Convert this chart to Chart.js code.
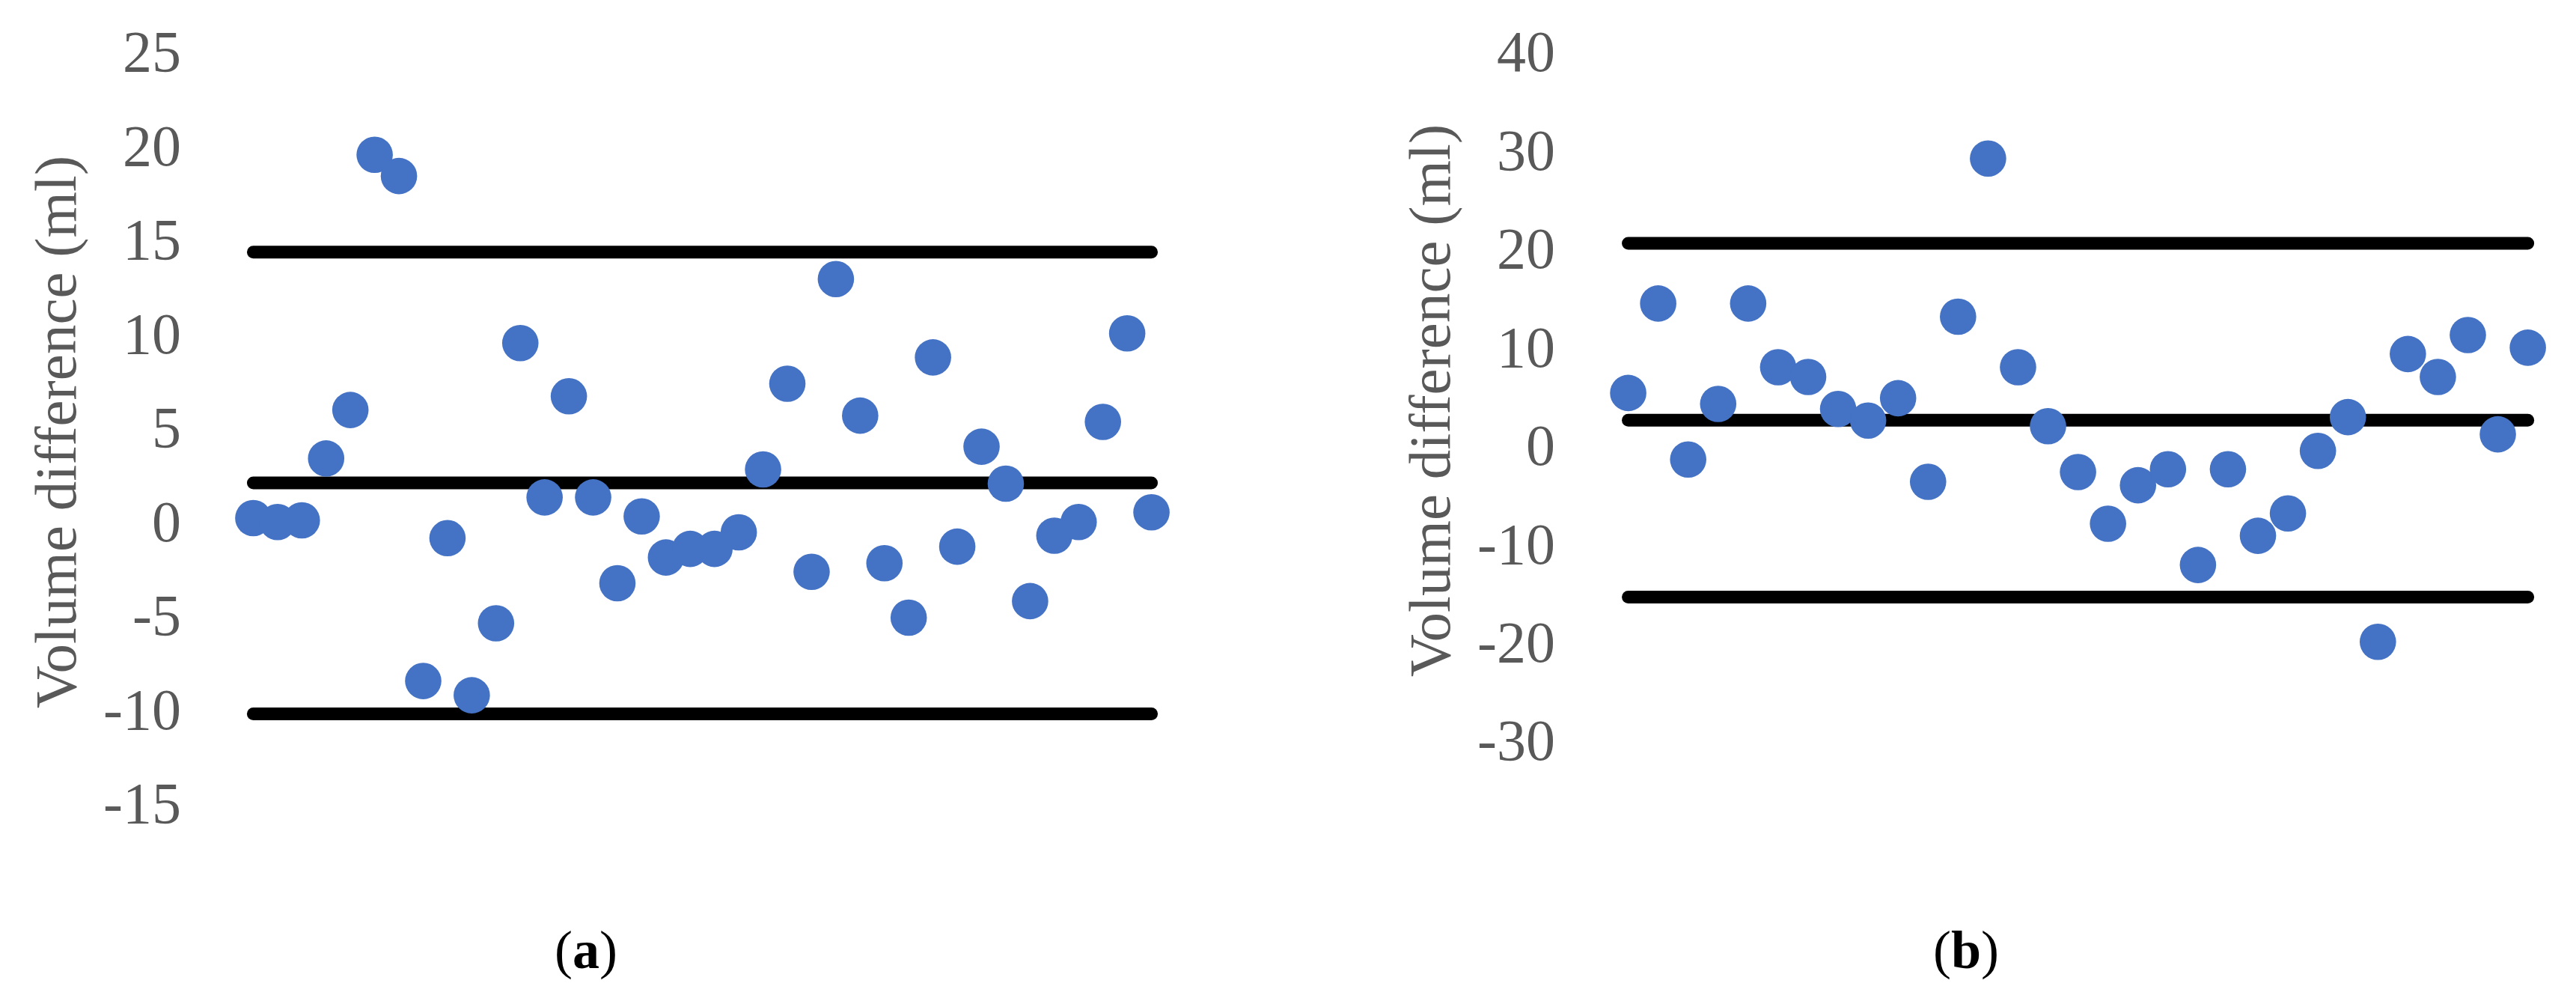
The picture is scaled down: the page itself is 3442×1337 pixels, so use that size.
<!DOCTYPE html>
<html>
<head>
<meta charset="utf-8">
<script src="https://cdn.jsdelivr.net/npm/chart.js@4/dist/chart.umd.min.js"></script>
<style>
  html, body { margin: 0; padding: 0; background: #fff; }
  body { width: 3442px; height: 1337px; position: relative; overflow: hidden; }
  .panel { position: absolute; top: 0; height: 1337px; }
  .panel canvas { display: block; }
  .tag {
    position: absolute; transform: translate(-50%, -50%);
    font-family: "Liberation Serif", serif; font-size: 72px; color: #000;
    white-space: nowrap; line-height: 1;
  }
</style>
</head>
<body>
<div class="panel" id="panelA" style="left:0;width:1720px;"><canvas id="chartA"></canvas></div>
<div class="panel" id="panelB" style="left:1720px;width:1722px;"><canvas id="chartB"></canvas></div>
<div class="tag" style="left:783px;top:1269px;">(<b>a</b>)</div>
<div class="tag" style="left:2627px;top:1269px;">(<b>b</b>)</div>

<script>
// panel (a): volume differences per case
const diffA = [
  0.42, 0.21, 0.30, 3.59, 6.17, 19.75, 18.62, -8.25, -0.65, -9.01,
  -5.18, 9.73, 1.52, 6.90, 1.52, -3.05, 0.51, -1.68, -1.22, -1.22,
  -0.34, 3.01, 7.57, -2.44, 13.14, 5.87, -1.98, -4.88, 8.97, -1.10,
  4.22, 2.25, -4.00, -0.52, 0.21, 5.54, 10.25, 0.73
];
// upper limit, mean, lower limit (a)
const limitsA = [14.57, 2.29, -10.0];
const ticksA = [25, 20, 15, 10, 5, 0, -5, -10, -15];

// panel (b)
const diffB = [
  5.77, 14.86, -0.99, 4.66, 14.86, 8.39, 7.40, 4.14, 2.97, 5.24,
  -3.26, 13.52, 29.6, 8.39, 2.39, -2.27, -7.52, -3.61, -1.98, -11.71,
  -1.98, -8.74, -6.47, -0.12, 3.32, -19.52, 9.73, 7.40, 11.66, 1.57,
  10.37
];
const limitsB = [20.97, 3.0, -14.98];
const ticksB = [40, 30, 20, 10, 0, -10, -20, -30];

const axisTitle = "Volume difference (ml)";
const blue = "#4472C4";
const grey = "#595959";
const fontFamily = "'Liberation Serif', 'Times New Roman', serif";

function makeChart(id, diffs, limits, ticks, opts) {
  const n = diffs.length;
  const points = diffs.map((v, i) => ({ x: i + 1, y: v }));
  const lineSets = limits.map((v) => ({
    type: "line",
    data: [{ x: 1, y: v }, { x: n, y: v }],
    borderColor: "#000",
    borderWidth: 17,
    borderCapStyle: "round",
    pointRadius: 0,
    fill: false,
    order: 2,
  }));

  return new Chart(document.getElementById(id), {
    type: "scatter",
    data: {
      datasets: [
        {
          data: points,
          backgroundColor: blue,
          borderWidth: 0,
          pointRadius: 24.3,
          pointHoverRadius: 24.3,
          order: 1,
        },
        ...lineSets,
      ],
    },
    options: {
      responsive: true,
      maintainAspectRatio: false,
      animation: false,
      events: [],
      layout: {
        padding: { left: 0, top: 75, right: opts.right, bottom: opts.bottom },
      },
      plugins: {
        legend: { display: false },
        tooltip: { enabled: false },
      },
      scales: {
        x: {
          type: "linear",
          display: false,
          min: 0,
          max: n + 1,
        },
        y: {
          min: ticks[ticks.length - 1],
          max: ticks[0],
          afterBuildTicks: (scale) => {
            scale.ticks = ticks.map((v) => ({ value: v }));
          },
          afterFit: (scale) => {
            scale.width = opts.axisWidth;
          },
          // hidden grid, but tickLength keeps the labels away from the plot
          grid: { display: false, drawTicks: true, tickLength: opts.tickGap },
          border: { display: false },
          ticks: {
            color: grey,
            padding: 0,
            font: { family: fontFamily, size: 78 },
          },
          title: {
            display: true,
            text: axisTitle,
            color: grey,
            padding: { top: opts.titlePad, bottom: 0 },
            font: { family: fontFamily, size: 79 },
          },
        },
      },
    },
  });
}

makeChart("chartA", diffA, limitsA, ticksA, {
  axisWidth: 306, tickGap: 64, titlePad: 32.6, right: 149, bottom: 258,
});
makeChart("chartB", diffB, limitsB, ticksB, {
  axisWidth: 415.5, tickGap: 57.5, titlePad: 148.6, right: 10.5, bottom: 342,
});
</script>
</body>
</html>
